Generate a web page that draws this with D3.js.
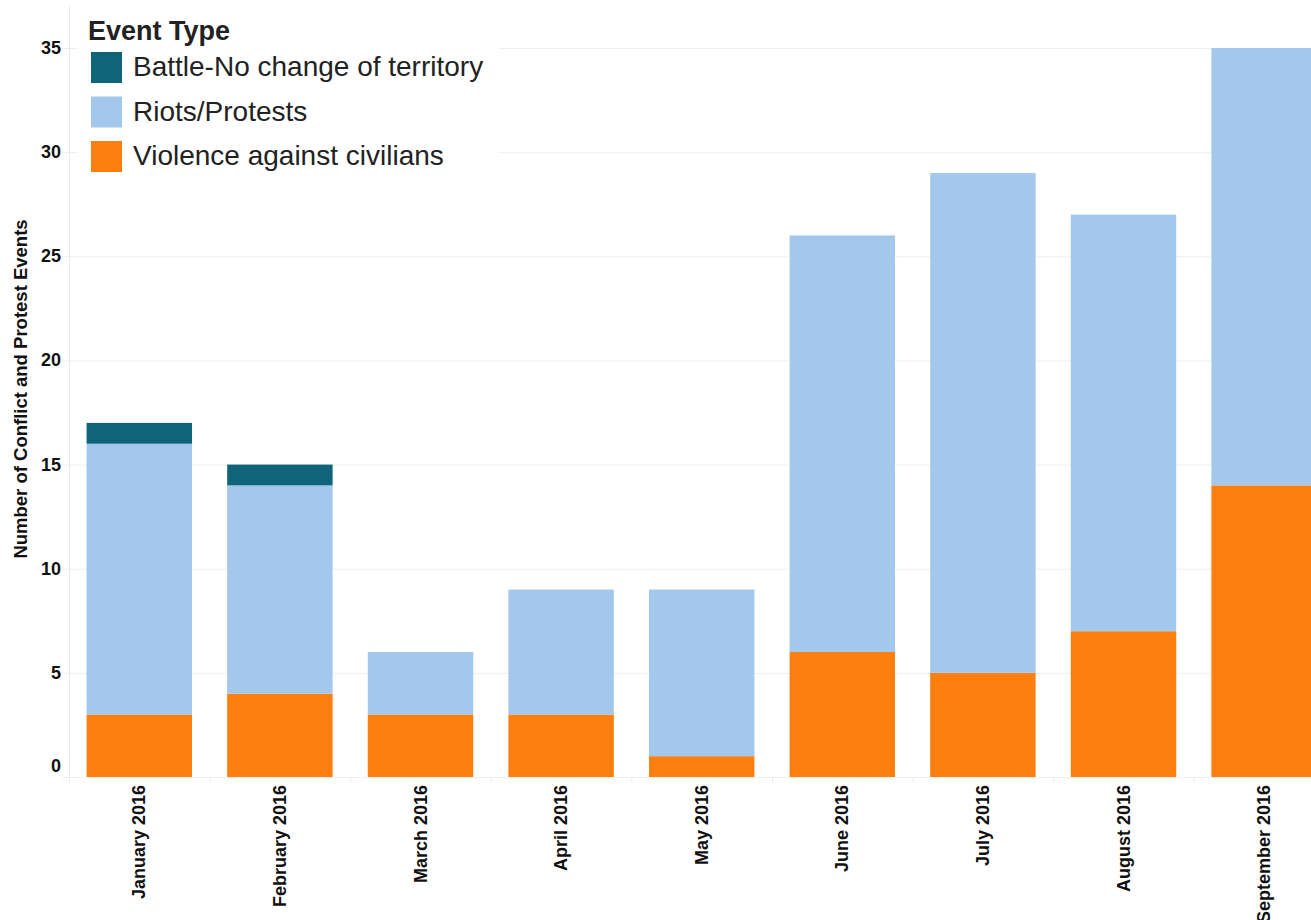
<!DOCTYPE html>
<html>
<head>
<meta charset="utf-8">
<script src="https://cdn.jsdelivr.net/npm/d3@7"></script>
<style>
  body { margin: 0; background: #fff; }
  text { font-family: "Liberation Sans", Arial, sans-serif; }
</style>
</head>
<body>
<svg id="canvas"></svg>
<script>
const months = ["January 2016", "February 2016", "March 2016", "April 2016", "May 2016",
  "June 2016", "July 2016", "August 2016", "September 2016"];
const eventTypes = ["Battle-No change of territory", "Riots/Protests", "Violence against civilians"];
const violence = [3, 4, 3, 3, 1, 6, 5, 7, 14];
const riots = [13, 10, 3, 6, 8, 20, 24, 20, 21];
const battle = [1, 1, 0, 0, 0, 0, 0, 0, 0];
const yTicks = [0, 5, 10, 15, 20, 25, 30, 35];
const colors = ["#0f6479", "#a3c8eb", "#fd7f0f"];

function getChartConfig() {
  let canvasWidth = 1311,
    canvasHeight = 920;
  let svg = d3.select("#canvas");
  svg.attr("width", canvasWidth).attr("height", canvasHeight);
  return { canvasWidth, canvasHeight, svg, left: 69, zeroY: 777, topY: 48 };
}

function getChartScales(config) {
  let { left, zeroY, topY } = config;
  let xScale = d3
    .scaleBand()
    .domain(months)
    .range([left, left + 9 * 140.6])
    .paddingInner(0.25)
    .paddingOuter(0.125);
  let yScale = d3.scaleLinear().domain([0, 35]).range([zeroY, topY]);
  let cScale = d3.scaleOrdinal().domain(eventTypes).range(colors);
  return { xScale, yScale, cScale };
}

function drawAxes(scales, config) {
  let { xScale, yScale } = scales;
  let { svg, left, zeroY, canvasWidth } = config;

  // grid
  svg.append("g")
    .selectAll("line")
    .data(yTicks)
    .enter()
    .append("line")
    .attr("x1", left - 7)
    .attr("x2", canvasWidth)
    .attr("y1", (d) => yScale(d) + 0.5)
    .attr("y2", (d) => yScale(d) + 0.5)
    .attr("stroke", "#efefef")
    .attr("stroke-width", 1);

  // y axis line
  svg.append("line")
    .attr("x1", left + 0.5).attr("x2", left + 0.5)
    .attr("y1", 6).attr("y2", zeroY + 6)
    .attr("stroke", "#eaeaea");

  // x ticks at band boundaries
  let bounds = months.map((m) => xScale(m) - xScale.step() * 0.125);
  svg.append("g")
    .selectAll("line")
    .data(bounds.slice(1))
    .enter()
    .append("line")
    .attr("x1", (d) => d + 0.5).attr("x2", (d) => d + 0.5)
    .attr("y1", zeroY).attr("y2", zeroY + 6)
    .attr("stroke", "#eaeaea");

  // tick labels sit centred on their gridline, the 0 is kept above the baseline
  svg.append("g")
    .selectAll("text")
    .data(yTicks)
    .enter()
    .append("text")
    .attr("x", 61)
    .attr("y", (d) => (d === 0 ? yScale(d) - 5 : yScale(d) + 6))
    .attr("text-anchor", "end")
    .attr("font-size", 18)
    .attr("font-weight", "bold")
    .attr("fill", "#111")
    .text((d) => d);

  svg.append("g")
    .selectAll("text")
    .data(months)
    .enter()
    .append("text")
    .attr("transform", (d) => `translate(${xScale(d) + xScale.bandwidth() / 2 + 6},${zeroY + 8}) rotate(-90)`)
    .attr("text-anchor", "end")
    .attr("font-size", 18)
    .attr("font-weight", "bold")
    .attr("fill", "#111")
    .text((d) => d);

  svg.append("text")
    .attr("transform", `translate(27,${(215 + 563) / 2}) rotate(-90)`)
    .attr("text-anchor", "middle")
    .attr("font-size", 18.5)
    .attr("font-weight", "bold")
    .attr("fill", "#111")
    .text("Number of Conflict and Protest Events");
}

function drawChart(scales, config) {
  let { xScale, yScale, cScale } = scales;
  let { svg } = config;
  let rows = months.map((m, i) => ({
    month: m,
    "Violence against civilians": violence[i],
    "Riots/Protests": riots[i],
    "Battle-No change of territory": battle[i],
  }));
  let stack = d3.stack().keys(["Violence against civilians", "Riots/Protests", "Battle-No change of territory"]);
  let series = stack(rows);

  svg.append("g")
    .selectAll("g")
    .data(series)
    .enter()
    .append("g")
    .attr("fill", (s) => cScale(s.key))
    .selectAll("rect")
    .data((s) => s)
    .enter()
    .append("rect")
    .attr("x", (d) => xScale(d.data.month))
    .attr("width", xScale.bandwidth())
    .attr("y", (d) => yScale(d[1]))
    .attr("height", (d) => yScale(d[0]) - yScale(d[1]));
}

function drawLegend(scales, config) {
  let { cScale } = scales;
  let { svg } = config;
  let g = svg.append("g");
  g.append("rect")
    .attr("x", 78).attr("y", 0)
    .attr("width", 421).attr("height", 185)
    .attr("fill", "#fff");
  g.append("text")
    .attr("x", 88).attr("y", 40)
    .attr("font-size", 27)
    .attr("font-weight", "bold")
    .attr("fill", "#222")
    .text("Event Type");
  let item = g.selectAll(".legend")
    .data(cScale.domain())
    .enter()
    .append("g")
    .attr("class", "legend")
    .attr("transform", (d, i) => `translate(91,${52 + i * 44.5})`);
  item.append("rect")
    .attr("width", 31).attr("height", 31)
    .attr("fill", cScale);
  item.append("text")
    .attr("x", 42).attr("y", 24)
    .attr("font-size", 28)
    .attr("fill", "#222")
    .text((d) => d);
}

let config = getChartConfig();
let scales = getChartScales(config);
drawAxes(scales, config);
drawChart(scales, config);
drawLegend(scales, config);
</script>
</body>
</html>
